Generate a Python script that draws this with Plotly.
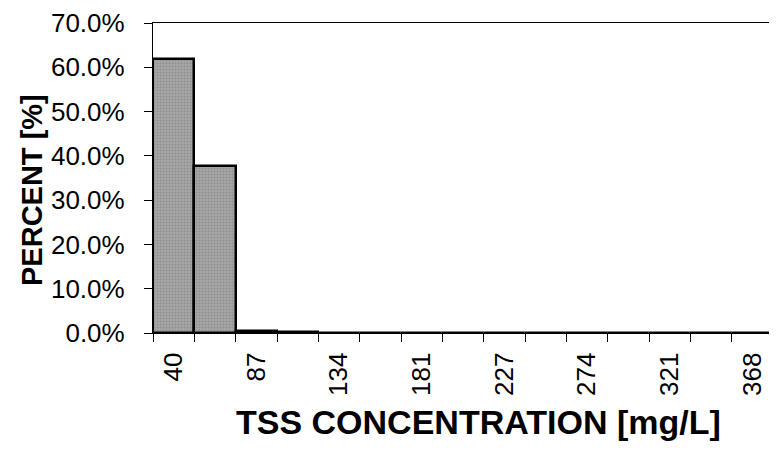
import plotly.graph_objects as go

bins = ["40", "63", "87", "110", "134", "157", "181", "204", "227", "251", "274", "297", "321", "344", "368"]
percent = [0.619, 0.378, 0.005, 0.002, 0.0005, 0, 0, 0, 0, 0, 0, 0, 0, 0, 0]
tick_text = ["40", "", "87", "", "134", "", "181", "", "227", "", "274", "", "321", "", "368"]
y_ticks = [0, 0.1, 0.2, 0.3, 0.4, 0.5, 0.6, 0.7]

# page has an 8px body margin; work in page pixels then convert
OFF = 8
W, H = 777 - OFF, 454 - 2 * OFF
X0, X1, Y0, Y1 = 153, 773, 23, 333  # plot area in page pixels
L = X0 - OFF
T = Y0 - OFF
pw = X1 - X0
ph = Y1 - Y0
R = W - L - pw
B = H - T - ph


def px(xp):
    return (xp - X0) / pw


def py(yp):
    return (Y1 - yp) / ph


fig = go.Figure(go.Bar(
    x=bins, y=percent,
    marker=dict(color="#9a9a9a", line=dict(color="black", width=2.5),
                pattern=dict(shape=".", fgcolor="#767676", bgcolor="#a8a8a8", size=3, solidity=0.4)),
    width=1.0,
))

font = "Liberation Sans, Arial, sans-serif"
fig.update_layout(
    width=W, height=H,
    margin=dict(l=L, r=R, t=T, b=B, autoexpand=False),
    paper_bgcolor="white", plot_bgcolor="white",
    showlegend=False, bargap=0,
    font=dict(family=font, color="black"),
    xaxis=dict(
        type="category", tickvals=bins, ticktext=tick_text, tickson="boundaries",
        ticks="outside", ticklen=8, tickwidth=1.2, tickcolor="black",
        tickangle=-90, tickfont=dict(size=26, family=font),
        ticklabelstandoff=8, automargin=False,
        showline=True, linecolor="black", linewidth=1.2, mirror=True,
        showgrid=False, zeroline=False, range=[-0.5, 14.5],
    ),
    yaxis=dict(
        range=[0, 0.7], tickvals=y_ticks, tickformat=".1%",
        ticks="outside", ticklen=8, tickwidth=1.2, tickcolor="black",
        tickfont=dict(size=26, family=font), ticklabelstandoff=14, automargin=False,
        showline=True, linecolor="black", linewidth=1.2, mirror=True,
        showgrid=False, zeroline=False,
    ),
    annotations=[
        dict(text="<b>TSS CONCENTRATION [mg/L]</b>", xref="paper", yref="paper",
             x=px(478), y=py(422), xanchor="center", yanchor="middle",
             showarrow=False, font=dict(size=34, family=font)),
        dict(text="<b>PERCENT [%]</b>", xref="paper", yref="paper",
             x=px(32), y=py(190), xanchor="center", yanchor="middle",
             textangle=-90, showarrow=False, font=dict(size=29, family=font)),
    ],
)

fig.write_html("out.html")
